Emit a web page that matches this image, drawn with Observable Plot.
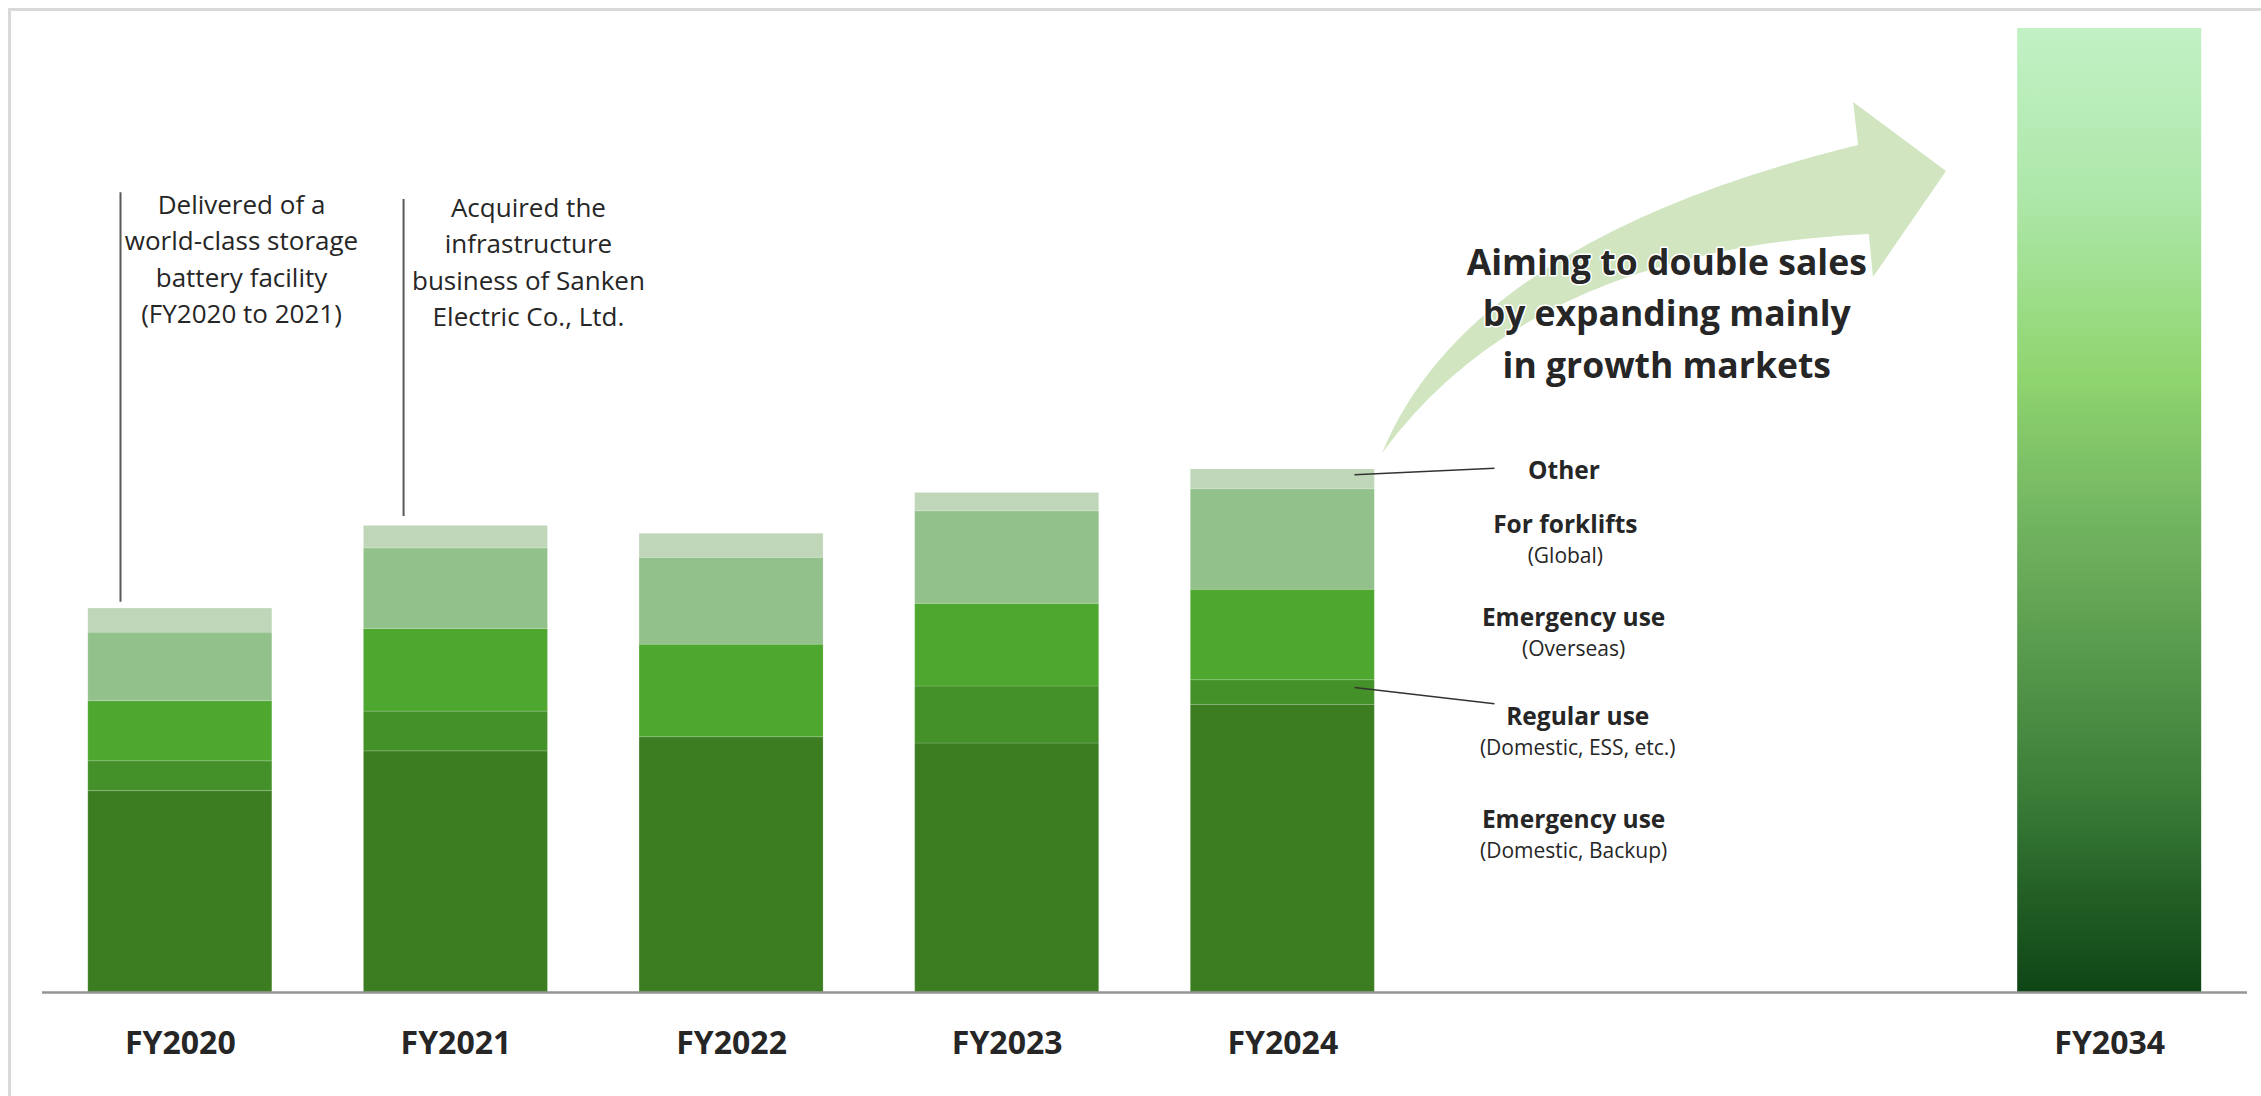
<!DOCTYPE html>
<html><head><meta charset="utf-8">
<script src="https://cdn.jsdelivr.net/npm/d3@7"></script>
<script src="https://cdn.jsdelivr.net/npm/@observablehq/plot@0.6"></script>
<style>
html,body{margin:0;padding:0;background:#fff;overflow:hidden;}
#frame{position:absolute;left:8px;top:8px;width:2400px;height:1200px;border-left:3px solid #d9d9d9;border-top:3px solid #d9d9d9;}
#chart{position:absolute;left:0;top:0;}
</style></head><body>
<div id="frame"></div><div id="chart"></div>
<script>
// ---- data ----
const years = ["FY2020", "FY2021", "FY2022", "FY2023", "FY2024"];
const seriesNames = ["Emergency use (Domestic, Backup)", "Regular use (Domestic, ESS, etc.)", "Emergency use (Overseas)", "For forklifts (Global)", "Other"];
const emergencyDomestic = [38.5, 46.1, 48.8, 47.6, 55.0];
const regularUse        = [5.7, 7.6, 0, 10.9, 4.7];
const emergencyOverseas = [11.5, 15.8, 17.7, 15.8, 17.3];
const forklifts         = [13.1, 15.4, 16.6, 17.7, 19.2];
const other             = [4.6, 4.3, 4.6, 3.5, 3.8];
const targetYear = "FY2034";
const targetValue = 184.3;
const tickLabels = ["FY2020", "FY2021", "FY2022", "FY2023", "FY2024", "", "", "FY2034"];
const legendTitles = ["Emergency use", "Regular use", "Emergency use", "For forklifts", "Other"];
const legendSubtitles = ["(Domestic, Backup)", "(Domestic, ESS, etc.)", "(Overseas)", "(Global)", ""];
const annotationTexts = ["Delivered of a\nworld-class storage\nbattery facility\n(FY2020 to 2021)",
                         "Acquired the\ninfrastructure\nbusiness of Sanken\nElectric Co., Ltd."];
const headline = "Aiming to double sales\nby expanding mainly\nin growth markets";

// ---- layout / styling ----
const colors = ["#3c7d22", "#449129", "#4ea72f", "#93c18b", "#bfd6b9"];
const half = 0.3338;
const seriesValues = [emergencyDomestic, regularUse, emergencyOverseas, forklifts, other];

const rects = [];
years.forEach((yr, i) => {
  let base = 0;
  seriesValues.forEach((vals, s) => {
    const v = vals[i];
    if (v > 0) rects.push({year: yr, slot: i, series: seriesNames[s], y1: base, y2: base + v});
    base += v;
  });
});
const target = [{year: targetYear, slot: 7, value: targetValue}];

// annotation positions (slot units, value units)
const annLines = [{x: -0.217, y1: 74.6, y2: 152.9}, {x: 0.810, y1: 91.0, y2: 151.6}];
const annLabels = [{x: 0.222, y: 153.8, text: annotationTexts[0]}, {x: 1.263, y: 153.2, text: annotationTexts[1]}];
const legendY = [32.9, 52.7, 71.6, 89.4, 99.7];
const legendX = [5.055, 5.07, 5.055, 5.025, 5.02];
const legendItems = legendTitles.map((t, i) => ({x: legendX[i], y: legendY[i], title: t, sub: legendSubtitles[i]}));
const leaders = [
  {x1: 4.260, y1: 98.97, x2: 4.768, y2: 100.24},
  {x1: 4.260, y1: 58.31, x2: 4.768, y2: 55.19}
];
// growth arrow outline (slot units, value units)
const arrowShape = {
  tail: [4.362, 103.05], cUpper: [4.681, 143.77], upper: [6.089, 161.93],
  head1: [6.071, 170.15], tip: [6.408, 156.96], head2: [6.143, 136.70],
  lower: [6.128, 144.92], cLower: [4.899, 141.86]
};

const SVGNS = "http://www.w3.org/2000/svg";
function arrowMark(index, scales) {
  const X = scales.x, Y = scales.y;
  const p = (pt) => [X(pt[0]), Y(pt[1])];
  const a = arrowShape;
  const path = d3.path();
  path.moveTo(...p(a.tail));
  path.quadraticCurveTo(...p(a.cUpper), ...p(a.upper));
  path.lineTo(...p(a.head1));
  path.lineTo(...p(a.tip));
  path.lineTo(...p(a.head2));
  path.lineTo(...p(a.lower));
  path.quadraticCurveTo(...p(a.cLower), ...p(a.tail));
  path.closePath();
  const g = document.createElementNS(SVGNS, "g");
  const defs = document.createElementNS(SVGNS, "defs");
  const grad = document.createElementNS(SVGNS, "linearGradient");
  grad.setAttribute("id", "g2034");
  grad.setAttribute("x1", "0"); grad.setAttribute("y1", "0");
  grad.setAttribute("x2", "0"); grad.setAttribute("y2", "1");
  [[0, "#c1f1c5"], [0.18, "#ade7a8"], [0.36, "#8fd56f"], [0.5, "#74b762"], [0.65, "#589a4c"], [0.8, "#387c37"], [0.9, "#235f25"], [1, "#0e4516"]]
    .forEach(([o, c]) => {
      const s = document.createElementNS(SVGNS, "stop");
      s.setAttribute("offset", o); s.setAttribute("stop-color", c);
      grad.appendChild(s);
    });
  defs.appendChild(grad);
  g.appendChild(defs);
  const el = document.createElementNS(SVGNS, "path");
  el.setAttribute("d", path.toString());
  el.setAttribute("fill", "#d0e5c0");
  g.appendChild(el);
  return g;
}

const font = "'Open Sans', sans-serif";
const ink = "#262626";

const chart = Plot.plot({
  width: 2261,
  height: 1096,
  marginLeft: 42,
  marginRight: 14,
  marginTop: 28,
  marginBottom: 104,
  style: {fontFamily: font, background: "transparent", overflow: "visible"},
  x: {type: "linear", domain: [-0.5, 7.5], axis: null},
  y: {domain: [0, targetValue], axis: null},
  color: {domain: seriesNames, range: colors},
  marks: [
    arrowMark,
    Plot.rect(rects, {x1: d => d.slot - half, x2: d => d.slot + half, y1: "y1", y2: "y2", fill: "series",
      stroke: "#ffffff", strokeOpacity: 0.15, strokeWidth: 1}),
    Plot.rect(target, {x1: d => d.slot - half, x2: d => d.slot + half, y1: 0, y2: "value", fill: "url(#g2034)"}),
    Plot.ruleY([0], {stroke: "#959595", strokeWidth: 2.5}),
    Plot.ruleX(annLines, {x: "x", y1: "y1", y2: "y2", stroke: "#595959", strokeWidth: 2}),
    Plot.text(annLabels, {x: "x", y: "y", text: "text", lineAnchor: "top", lineHeight: 1.4,
      fontSize: 26, fill: ink, fontFamily: font}),
    Plot.text([headline], {x: 5.393, y: 144.2, text: d => d, lineAnchor: "top", lineHeight: 1.45,
      fontSize: 35.5, fontWeight: "bold", fill: ink, stroke: "white", strokeWidth: 3, fontFamily: font}),
    Plot.link(leaders, {x1: "x1", y1: "y1", x2: "x2", y2: "y2", stroke: "#333333", strokeWidth: 1.5}),
    Plot.text(legendItems, {x: "x", y: "y", text: "title", lineAnchor: "middle", fontSize: 24.5,
      fontWeight: "bold", fill: ink, fontFamily: font}),
    Plot.text(legendItems.filter(d => d.sub), {x: "x", y: "y", text: "sub", lineAnchor: "middle", dy: 31,
      fontSize: 21, fill: ink, fontFamily: font}),
    Plot.axisX({ticks: [0, 1, 2, 3, 4, 7], tickFormat: i => tickLabels[i], tickSize: 0, tickPadding: 39,
      fontSize: 32, fontWeight: "bold", fill: ink, label: null, fontFamily: font})
  ]
});
document.getElementById("chart").appendChild(chart);
</script>
</body></html>
